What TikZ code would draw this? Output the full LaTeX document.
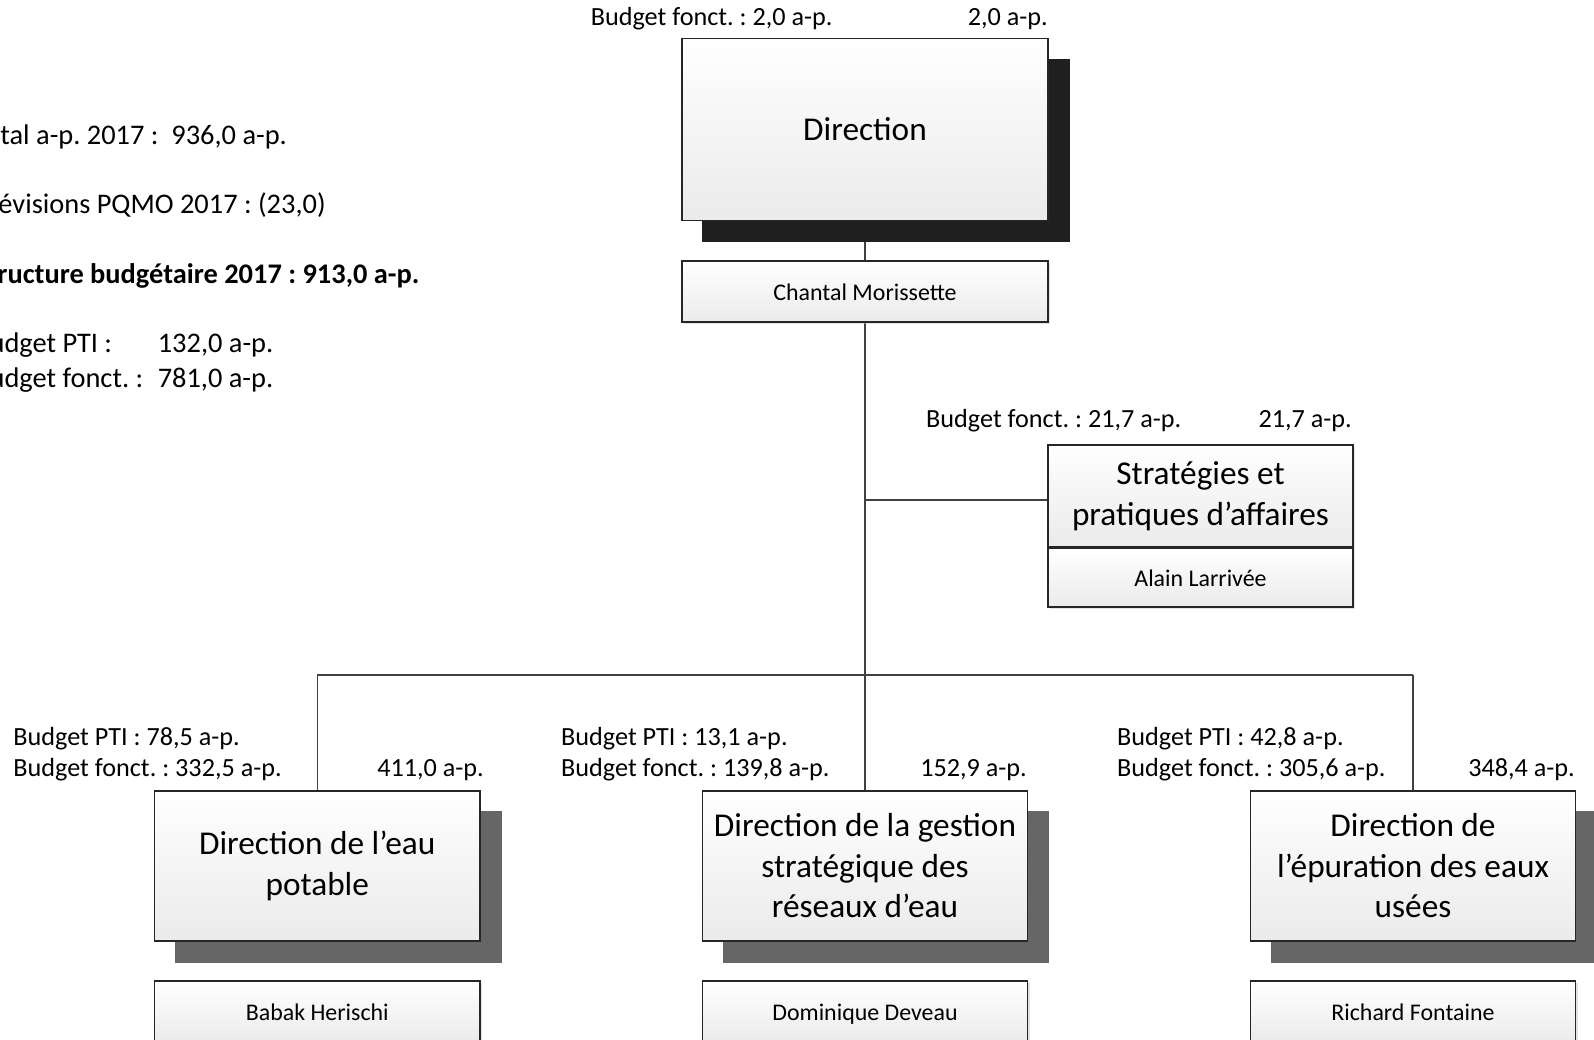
\documentclass[tikz,border=0pt]{standalone}
\usepackage{fontspec}
\setmainfont{Carlito}
\usetikzlibrary{backgrounds,shadows}
\frenchspacing
\begin{document}
\begin{tikzpicture}[x=1pt,y=-1pt,
  box/.style={draw=black!85, line width=1.4pt, rectangle, inner sep=0pt, top color=white, bottom color=black!8, align=center, text=black},
  titlebox/.style={box, font=\fontsize{33.3}{40.5}\selectfont},
  namebox/.style={box, font=\fontsize{23.9}{29}\selectfont, text height=20pt, text depth=2pt},
  soft/.style={drop shadow={shadow xshift=2pt, shadow yshift=-2pt, fill=black!22}},
  lbl/.style={inner sep=0pt, font=\fontsize{26.2}{32}\selectfont},
  sumtxt/.style={inner sep=0pt, anchor=base west, font=\fontsize{28.4}{34.6}\selectfont},
  conn/.style={draw=black!75, line width=1.5pt},
  darkshadow/.style={fill=black!88},
  grayshadow/.style={fill=black!60}
]
\useasboundingbox (0,0) rectangle (1594,1040);

% boxes
\node[titlebox, minimum width=366pt, minimum height=182pt] (dir) at (865,129.6) {Direction};
\node[namebox, soft, minimum width=366pt, minimum height=61pt] (chantal) at (865,291.5) {Chantal Morissette};
\node[titlebox, soft, minimum width=305pt, minimum height=102pt] (strat) at (1200.5,496) {Stratégies et\\pratiques d’affaires};
\node[namebox, soft, minimum width=305pt, minimum height=59pt] (alain) at (1200.5,577.5) {Alain Larrivée};

\node[titlebox, minimum width=325.5pt, minimum height=150pt] (eau) at (317.25,866) {Direction de l’eau\\potable};
\node[titlebox, minimum width=325.5pt, minimum height=150pt] (gest) at (865,866) {Direction de la gestion\\stratégique des\\réseaux d’eau};
\node[titlebox, minimum width=325.5pt, minimum height=150pt] (epur) at (1413,866) {Direction de\\l’épuration des eaux\\usées};

\node[namebox, soft, minimum width=325.5pt, minimum height=61pt] (herischi) at (317.25,1011.5) {Babak Herischi};
\node[namebox, soft, minimum width=325.5pt, minimum height=61pt] (deveau) at (865,1011.5) {Dominique Deveau};
\node[namebox, soft, minimum width=325.5pt, minimum height=61pt] (fontaine) at (1413,1011.5) {Richard Fontaine};

% summary text (clipped at left edge, as in the reference)
\node[sumtxt] (s1) at (-26,145) {Total a-p. 2017 :\ \ 936,0 a-p.};
\node[sumtxt] (s2) at (-26,214) {Prévisions PQMO 2017 : (23,0)};
\node[sumtxt, font=\fontsize{28.4}{34.6}\selectfont\bfseries] (s3) at (-26,283.5) {Structure budgétaire 2017 : 913,0 a-p.};
\node[sumtxt] (s4) at (-26,352.6) {\makebox[183.6pt][l]{Budget PTI :}132,0 a-p.};
\node[sumtxt] (s5) at (-26,387) {\makebox[183.6pt][l]{Budget fonct. :}781,0 a-p.};

% budget labels
\node[lbl, anchor=base west] (dirb) at (590.6,26) {Budget fonct. : 2,0 a-p.};
\node[lbl, anchor=base east] (dirt) at (1048,26) {2,0 a-p.};
\node[lbl, anchor=base west] (stratb) at (926,427) {Budget fonct. : 21,7 a-p.};
\node[lbl, anchor=base east] (stratt) at (1352,427) {21,7 a-p.};

\node[lbl, anchor=base west] (eaup) at (13.2,745) {Budget PTI : 78,5 a-p.};
\node[lbl, anchor=base west] (eauf) at (13.2,776.5) {Budget fonct. : 332,5 a-p.};
\node[lbl, anchor=base east] (eaut) at (484,776.5) {411,0 a-p.};

\node[lbl, anchor=base west] (gestp) at (561,745) {Budget PTI : 13,1 a-p.};
\node[lbl, anchor=base west] (gestf) at (561,776.5) {Budget fonct. : 139,8 a-p.};
\node[lbl, anchor=base east] (gestt) at (1027,776.5) {152,9 a-p.};

\node[lbl, anchor=base west] (epurp) at (1117,745) {Budget PTI : 42,8 a-p.};
\node[lbl, anchor=base west] (epurf) at (1117,776.5) {Budget fonct. : 305,6 a-p.};
\node[lbl, anchor=base east] (epurt) at (1575,776.5) {348,4 a-p.};

% junction coordinates
\coordinate (sj) at (865,500);
\coordinate (bus) at (865,675);
\coordinate (busL) at (317.25,675);
\coordinate (busR) at (1413,675);

\begin{scope}[on background layer]
  \draw[conn] (dir.south) -- (chantal.north);
  \draw[conn] (chantal.south) -- (bus);
  \draw[conn] (sj) -- (sj -| strat.west);
  \draw[conn] (busL) -- (busR);
  \draw[conn] (busL) -- (eau.north);
  \draw[conn] (bus) -- (gest.north);
  \draw[conn] (busR) -- (epur.north);
  \fill[darkshadow] ([shift={(21pt,-21pt)}]dir.south west) rectangle ([shift={(21pt,-21pt)}]dir.north east);
  \fill[grayshadow] ([shift={(21pt,-21pt)}]eau.south west) rectangle ([shift={(21pt,-21pt)}]eau.north east);
  \fill[grayshadow] ([shift={(21pt,-21pt)}]gest.south west) rectangle ([shift={(21pt,-21pt)}]gest.north east);
  \fill[grayshadow] ([shift={(21pt,-21pt)}]epur.south west) rectangle ([shift={(21pt,-21pt)}]epur.north east);
\end{scope}
\end{tikzpicture}
\end{document}
